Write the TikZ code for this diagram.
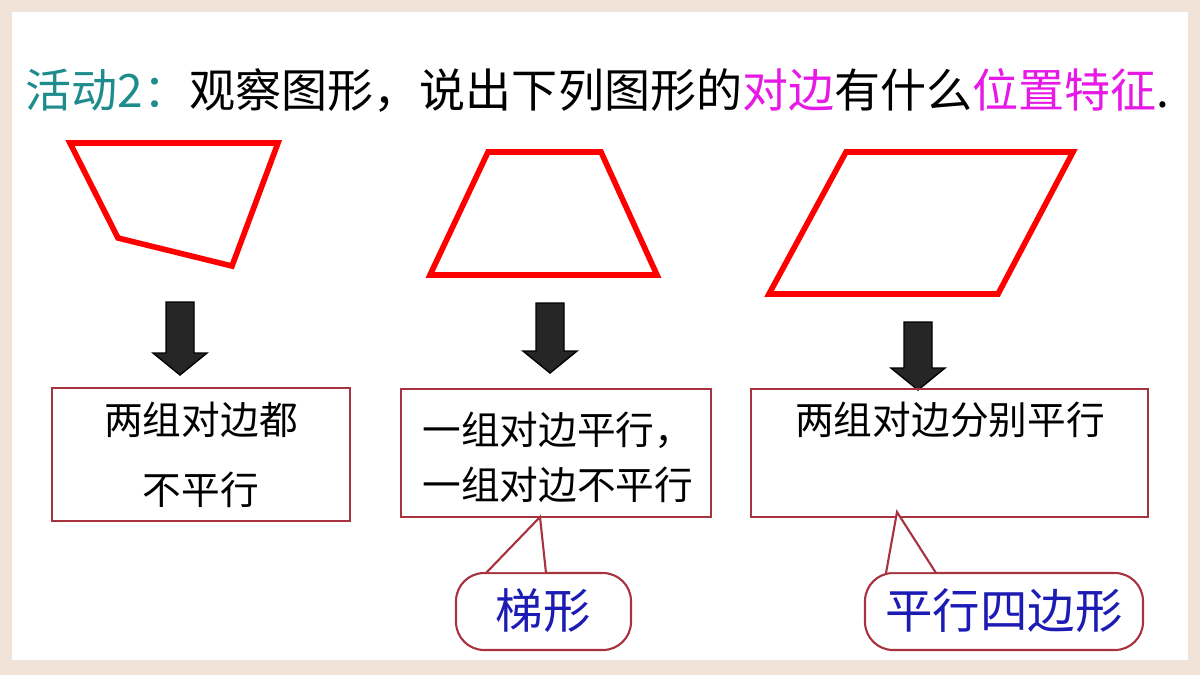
\documentclass[tikz,border=0pt]{standalone}
\usepackage{fontspec}
\setmainfont{Noto Sans CJK SC}
\usetikzlibrary{positioning}
\definecolor{pagebg}{HTML}{F2E3D8}
\definecolor{teal2}{HTML}{1E8C8C}
\definecolor{mag}{HTML}{E619E6}
\definecolor{boxred}{HTML}{A8323E}
\definecolor{darkblue}{HTML}{1C1CB4}
\begin{document}
\begin{tikzpicture}[x=0.01cm,y=-0.01cm,
    quad/.style={draw=red, line width=1.6pt, line join=miter},
    answer/.style={draw=boxred, line width=0.6pt, inner sep=0pt},
    callout/.style={draw=boxred, line width=0.6pt, fill=white, rounded corners=8pt},
    txt/.style={font=\fontsize{11}{13}\selectfont, align=left},
    figname/.style={text=darkblue, font=\fontsize{13.5}{15}\selectfont}]
    % background
    \fill[pagebg] (0,0) rectangle (1200,675);
    \fill[white] (12,12) rectangle (1188,660);
    \useasboundingbox (0,0) rectangle (1200,675);
    % title
    \node[anchor=west, inner sep=0pt, font=\fontsize{13.1}{15}\selectfont] (title) at (25,90)
        {\textcolor{teal2}{活动2：}观察图形，说出下列图形的\textcolor{mag}{对边}有什么\textcolor{mag}{位置特征}.};
    % shapes
    \draw[quad] (70,143) -- (278,143) -- (232,266) -- (118,238) -- cycle;
    \draw[quad] (488,152) -- (601,152) -- (657,275) -- (430,275) -- cycle;
    \draw[quad] (846,152) -- (1073,152) -- (998,294) -- (769,294) -- cycle;
    % arrows
    \foreach \cx/\top/\tip in {180/302/375, 550/303/373, 918/322/390}
        \fill[black!85, draw=black] (\cx-14,\top) -- (\cx+14,\top) -- (\cx+14,\tip-22)
            -- (\cx+27,\tip-22) -- (\cx,\tip) -- (\cx-27,\tip-22) -- (\cx-14,\tip-22) -- cycle;
    % answer boxes
    \draw[answer] (52,388) rectangle (350,521);
    \node[txt] (a1) at (201,420) {两组对边都};
    \node[txt] (a2) at (201,490) {不平行};
    \draw[answer] (401,389) rectangle (711,517);
    \coordinate (b2) at (540,517);
    \node[txt, anchor=west] (b1) at (410,430) {一组对边平行，};
    \node[txt, anchor=west] (b3) at (410,485) {一组对边不平行};
    \draw[answer] (751,389) rectangle (1148,517);
    \coordinate (b4) at (897,512);
    \node[txt] (c1) at (950,420) {两组对边分别平行};
    % callouts
    \draw[callout] (456,573) rectangle (631,650);
    \fill[white] (486,572) -- (546,572) -- (540,517) -- cycle;
    \draw[boxred, line width=0.6pt] (486,573) -- (b2) -- (546,573);
    \node[figname] (t1) at (543,611) {梯形};
    \draw[callout] (865,573) rectangle (1143,650);
    \fill[white] (886,572) -- (936,572) -- (897,512) -- cycle;
    \draw[boxred, line width=0.6pt] (886,573) -- (b4) -- (936,573);
    \node[figname] (t2) at (1004,611) {平行四边形};
\end{tikzpicture}
\end{document}
